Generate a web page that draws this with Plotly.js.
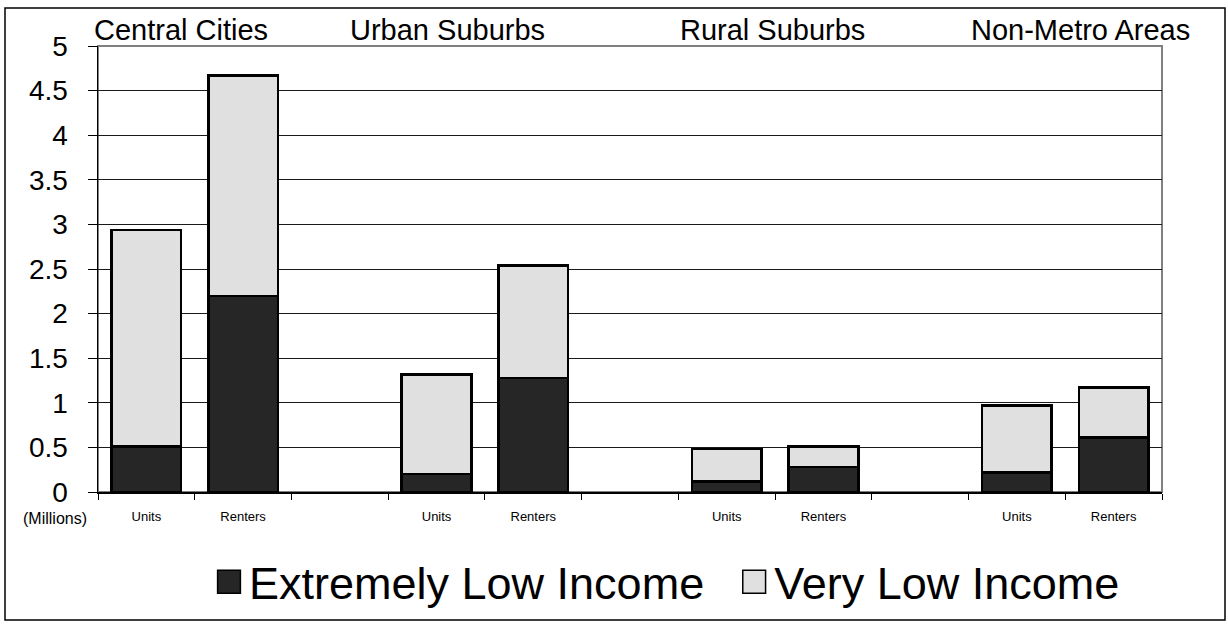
<!DOCTYPE html>
<html>
<head>
<meta charset="utf-8">
<script src="https://cdn.plot.ly/plotly-3.0.1.min.js"></script>
<style>
  html, body { margin: 0; padding: 0; background: #fff; }
  #chart { width: 1228px; height: 625px; }
</style>
</head>
<body>
<div id="chart"></div>
<script>
// ---- data (millions) ----
const regions = ['Central Cities', 'Urban Suburbs', 'Rural Suburbs', 'Non-Metro Areas'];
const measures = ['Units', 'Renters'];
const extremelyLowIncome = [0.51, 2.20, 0.20, 1.28, 0.12, 0.28, 0.22, 0.61];
const veryLowIncome      = [2.43, 2.47, 1.12, 1.26, 0.36, 0.23, 0.75, 0.56];
const yTicks = [0, 0.5, 1, 1.5, 2, 2.5, 3, 3.5, 4, 4.5, 5];

// ---- build category slots (with empty gap slots between regions) ----
const slots = [], slotText = [], barX = [];
regions.forEach((r, ri) => {
  measures.forEach(m => {
    const key = r + '|' + m;
    slots.push(key); slotText.push(m); barX.push(key);
  });
  if (ri < regions.length - 1) { slots.push('gap' + ri); slotText.push(''); }
});

const font = 'Liberation Sans, Arial, sans-serif';
const barLine = { color: '#000', width: 2.5 };

const traces = [
  { type: 'bar', name: 'Extremely Low Income\u00A0\u00A0', x: barX, y: extremelyLowIncome,
    marker: { color: '#262626', line: barLine }, width: 0.72 },
  { type: 'bar', name: 'Very Low Income', x: barX, y: veryLowIncome,
    marker: { color: '#e0e0e0', line: barLine }, width: 0.72 }
];

const L = 98, R = 66, T = 46, B = 133, W = 1228, H = 625;
const pw = W - L - R, ph = H - T - B;
const px = v => (v - L) / pw;
const py = v => (H - B - v) / ph;

const titleX = [181, 447, 772, 1080];
const annotations = regions.map((r, i) => ({
  text: r, xref: 'paper', yref: 'paper', x: px(titleX[i]), y: py(30),
  xanchor: 'center', yanchor: 'middle', showarrow: false,
  font: { family: font, size: 29, color: '#000' }
}));
annotations.push({
  text: '(Millions)', xref: 'paper', yref: 'paper', x: px(55), y: py(518),
  xanchor: 'center', yanchor: 'middle', showarrow: false,
  font: { family: font, size: 16, color: '#000' }
});

const layout = {
  width: W, height: H,
  margin: { l: L, r: R, t: T, b: B, pad: 0, autoexpand: false },
  paper_bgcolor: '#fff', plot_bgcolor: '#fff',
  barmode: 'stack',
  showlegend: true,
  legend: {
    orientation: 'h', x: px(667), xanchor: 'center', y: py(582), yanchor: 'middle',
    font: { family: font, size: 45, color: '#000' }, traceorder: 'normal',
    itemwidth: 30
  },
  xaxis: {
    type: 'category', categoryorder: 'array', categoryarray: slots,
    range: [-0.5, slots.length - 0.5],
    tickmode: 'array', tickvals: slots, ticktext: slotText,
    tickson: 'boundaries', ticks: 'outside', ticklen: 6, tickcolor: '#000', tickwidth: 1,
    showline: true, linecolor: '#000', linewidth: 1.5,
    showgrid: false, zeroline: false,
    tickfont: { family: font, size: 13, color: '#000' },
    ticklabelstandoff: 12
  },
  yaxis: {
    range: [0, 5], tickmode: 'array', tickvals: yTicks,
    ticktext: yTicks.map(v => String(v)),
    ticks: 'outside', ticklen: 9, tickcolor: '#000', tickwidth: 1,
    showline: true, linecolor: '#000', linewidth: 1.5,
    showgrid: true, gridcolor: '#1a1a1a', gridwidth: 1,
    zeroline: false,
    tickfont: { family: font, size: 28, color: '#000' },
    ticklabelstandoff: 14
  },
  shapes: [
    { type: 'rect', xref: 'paper', yref: 'paper', x0: 0, x1: 1, y0: 0, y1: 1,
      line: { color: '#808080', width: 2 }, layer: 'below' },
    { type: 'rect', xref: 'paper', yref: 'paper', x0: px(5), x1: px(1225), y0: py(620), y1: py(8),
      line: { color: '#000', width: 1.5 }, layer: 'below' }
  ],
  annotations: annotations
};

Plotly.newPlot('chart', traces, layout, { displayModeBar: false, staticPlot: true }).then(gd => {
  // enlarge the legend swatches to match the reference's large squares
  gd.querySelectorAll('.legend .legendpoints path').forEach(p => {
    const t = p.getAttribute('transform') || '';
    p.setAttribute('transform', t + ' scale(1.9)');
    p.style.vectorEffect = 'non-scaling-stroke';
    p.style.strokeWidth = '1.5px';
  });
});
</script>
</body>
</html>
